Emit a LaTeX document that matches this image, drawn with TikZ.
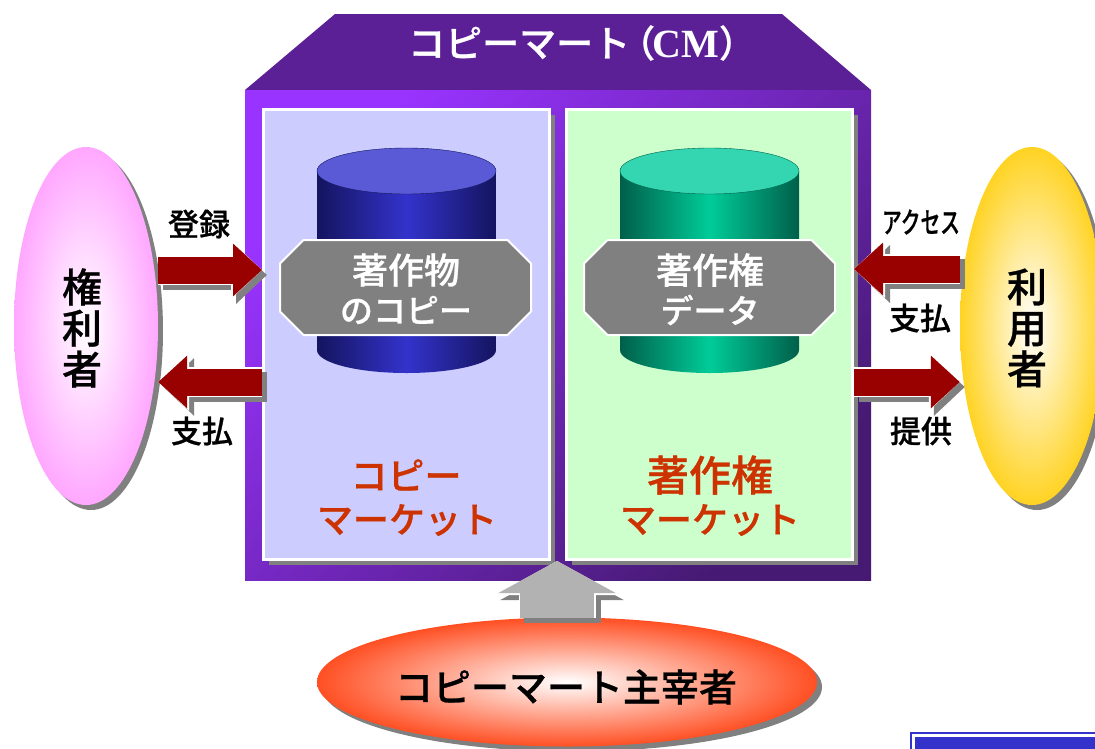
\documentclass[tikz,border=0pt]{standalone}
\usepackage{fontspec}
\usepackage{xcolor}
\usetikzlibrary{arrows.meta,shadows,shapes.geometric}

\newfontfamily\cjk[FakeBold=0.7]{Noto Sans CJK JP Medium}
\newfontfamily\latinserif{Liberation Serif}
\newcommand{\jp}[2]{\fontsize{#1}{#2}\selectfont\cjk}

\definecolor{roofpurple}{HTML}{5B1F96}
\definecolor{walllight}{HTML}{9933FF}
\definecolor{walldark}{HTML}{461A73}
\definecolor{copyfill}{HTML}{CCCCFF}
\definecolor{rightsfill}{HTML}{CCFFCC}
\definecolor{edgegray}{HTML}{808080}
\definecolor{arrowred}{HTML}{990000}
\definecolor{arrowgray}{HTML}{B2B2B2}
\definecolor{titlered}{HTML}{CC3300}
\definecolor{bannerblue}{HTML}{3333CC}
\definecolor{pinkedge}{HTML}{FF99FF}
\definecolor{amberedge}{HTML}{FFCC00}
\definecolor{rededge}{HTML}{FF3300}
\definecolor{blueside}{HTML}{14145F}
\definecolor{bluemid}{HTML}{3333CC}
\definecolor{bluelid}{HTML}{5A5AD6}
\definecolor{greenside}{HTML}{005F4A}
\definecolor{greenmid}{HTML}{00CC99}
\definecolor{greenlid}{HTML}{33D6B0}

\pgfdeclareradialshading{pinkglow}{\pgfpointorigin}{color(0bp)=(white); color(29bp)=(pinkedge); color(50bp)=(pinkedge)}
\pgfdeclareradialshading{amberglow}{\pgfpointorigin}{color(0bp)=(white); color(29bp)=(amberedge); color(50bp)=(amberedge)}
\pgfdeclareradialshading{redglow}{\pgfpointorigin}{color(0bp)=(white); color(29bp)=(rededge); color(50bp)=(rededge)}

\tikzset{
	greyshadow/.style={general shadow={fill=edgegray,shadow xshift=5pt,shadow yshift=-5pt}},
	panel/.style={rectangle,draw=white,line width=3pt,minimum width=286pt,minimum height=450pt,inner sep=0,greyshadow},
	oval/.style={ellipse,inner sep=0,shade,shading=#1,greyshadow},
	tagbox/.style={fill=edgegray,draw=white,line width=2pt},
	lbl/.style={text=black,inner sep=0,align=center},
	onword/.style={text=white,inner sep=0},
	nameword/.style={text=titlered,inner sep=0},
	redtip/.style={line width=27pt,-{Triangle[length=29pt,width=51pt]}},
	redtipback/.style={line width=30pt,-{Triangle[length=31pt,width=56pt]}},
	graytip/.style={line width=74pt,-{Triangle[length=32pt,width=116pt]}},
	graytipback/.style={line width=77pt,-{Triangle[length=34pt,width=122pt]}},
}

% shadow, white rim, then the arrow itself
\newcommand{\blockarrow}[4]{
	\draw[#1back,edgegray,transform canvas={xshift=5pt,yshift=-5pt}] #3 -- #4;
	\draw[#1back,white] #3 -- #4;
	\draw[#1,#2] #3 -- #4;
}

\begin{document}
\begin{tikzpicture}[x=1pt,y=-1pt]
	\useasboundingbox (0,0) rectangle (1095,748);

	% building
	\fill[roofpurple] (335,14) -- (782,14) -- (871,90) -- (245,90) -- cycle;
	\node[rectangle,inner sep=0,minimum width=626pt,minimum height=490pt,shade,shading=axis,
		top color=walllight,bottom color=walldark,shading angle=45] (market) at (558,335) {};
	\node[panel,fill=copyfill] (copypanel) at (406.5,334.5) {};
	\node[panel,fill=rightsfill] (rightspanel) at (709.5,334.5) {};
	\node[onword,anchor=west] (title) at (408,43) {\jp{37}{37}コピーマート\kern-12pt（\kern-3pt{\fontsize{40}{40}\selectfont\latinserif\bfseries CM}）};

	% left cylinder
	\shade[left color=blueside,right color=blueside,middle color=bluemid]
		(317,171) -- (317,350) arc[start angle=180,end angle=360,x radius=89.5pt,y radius=23pt] -- (496,171) -- cycle;
	\draw[fill=bluelid,draw=blueside] (406.5,171) ellipse (89.5 and 23);
	% right cylinder
	\shade[left color=greenside,right color=greenside,middle color=greenmid]
		(620,171) -- (620,350) arc[start angle=180,end angle=360,x radius=89.5pt,y radius=23pt] -- (799,171) -- cycle;
	\draw[fill=greenlid,draw=greenside] (709.5,171) ellipse (89.5 and 23);

	\foreach \cx in {405.5,709.5}
		\draw[tagbox,shift={(\cx,287.5)}] (-102,-47.5) -- (102,-47.5) -- (125.5,-24) -- (125.5,24)
			-- (102,47.5) -- (-102,47.5) -- (-125.5,24) -- (-125.5,-24) -- cycle;
	\node[onword] (copytagtop) at (406,270) {\jp{36}{36}著作物};
	\node[onword] (copytagbot) at (406,310) {\jp{33}{33}のコピー};
	\node[onword] (rightstagtop) at (710,270) {\jp{36}{36}著作権};
	\node[onword] (rightstagbot) at (710,310) {\jp{33}{33}データ};

	\node[nameword] (copyname) at (406,475) {\jp{37}{37}コピー};
	\node[nameword] (copyname2) at (407,520) {\jp{36}{36}マーケット};
	\node[nameword] (rightsname) at (710,475) {\jp{42}{42}著作権};
	\node[nameword] (rightsname2) at (710,520) {\jp{36}{36}マーケット};

	% people round the building
	\node[oval=pinkglow,minimum width=144pt,minimum height=358pt] (holder) at (86,326) {};
	\node[oval=amberglow,minimum width=144pt,minimum height=358pt] (user) at (1032,326) {};
	\node[oval=redglow,minimum width=500pt,minimum height=129pt] (host) at (567,682) {};
	\node[lbl,font=\jp{40}{41}] (holdername) at (82,328) {権\\利\\者};
	\node[lbl,font=\jp{40}{41}] (username) at (1027,328) {利\\用\\者};
	\node[lbl] (hostname) at (566,687) {\jp{38}{38}コピーマート主宰者};

	% arrows
	\blockarrow{redtip}{arrowred}{(holder.east |- 0,270)}{(copypanel.west |- 0,270)}
	\blockarrow{redtip}{arrowred}{(copypanel.west |- 0,382)}{(holder.east |- 0,382)}
	\blockarrow{redtip}{arrowred}{(user.west |- 0,269)}{(rightspanel.east |- 0,269)}
	\blockarrow{redtip}{arrowred}{(rightspanel.east |- 0,382)}{(user.west |- 0,382)}
	\blockarrow{graytip}{arrowgray}{(557,618)}{(557,561)}

	\node[lbl] (register) at (199,224) {\jp{31}{31}登録};
	\node[lbl] (payleft) at (202,431) {\jp{31}{31}支払};
	\node[lbl] (access) at (921,222) {\scalebox{.68}[1]{\jp{29}{29}アクセス}};
	\node[lbl] (payright) at (920,318) {\jp{31}{31}支払};
	\node[lbl] (supply) at (921,431) {\jp{31}{31}提供};

	% corner of the next banner
	\draw[bannerblue,line width=2pt,fill=white] (911,733) rectangle (1110,770);
	\fill[bannerblue] (915,737) rectangle (1110,770);
\end{tikzpicture}
\end{document}
